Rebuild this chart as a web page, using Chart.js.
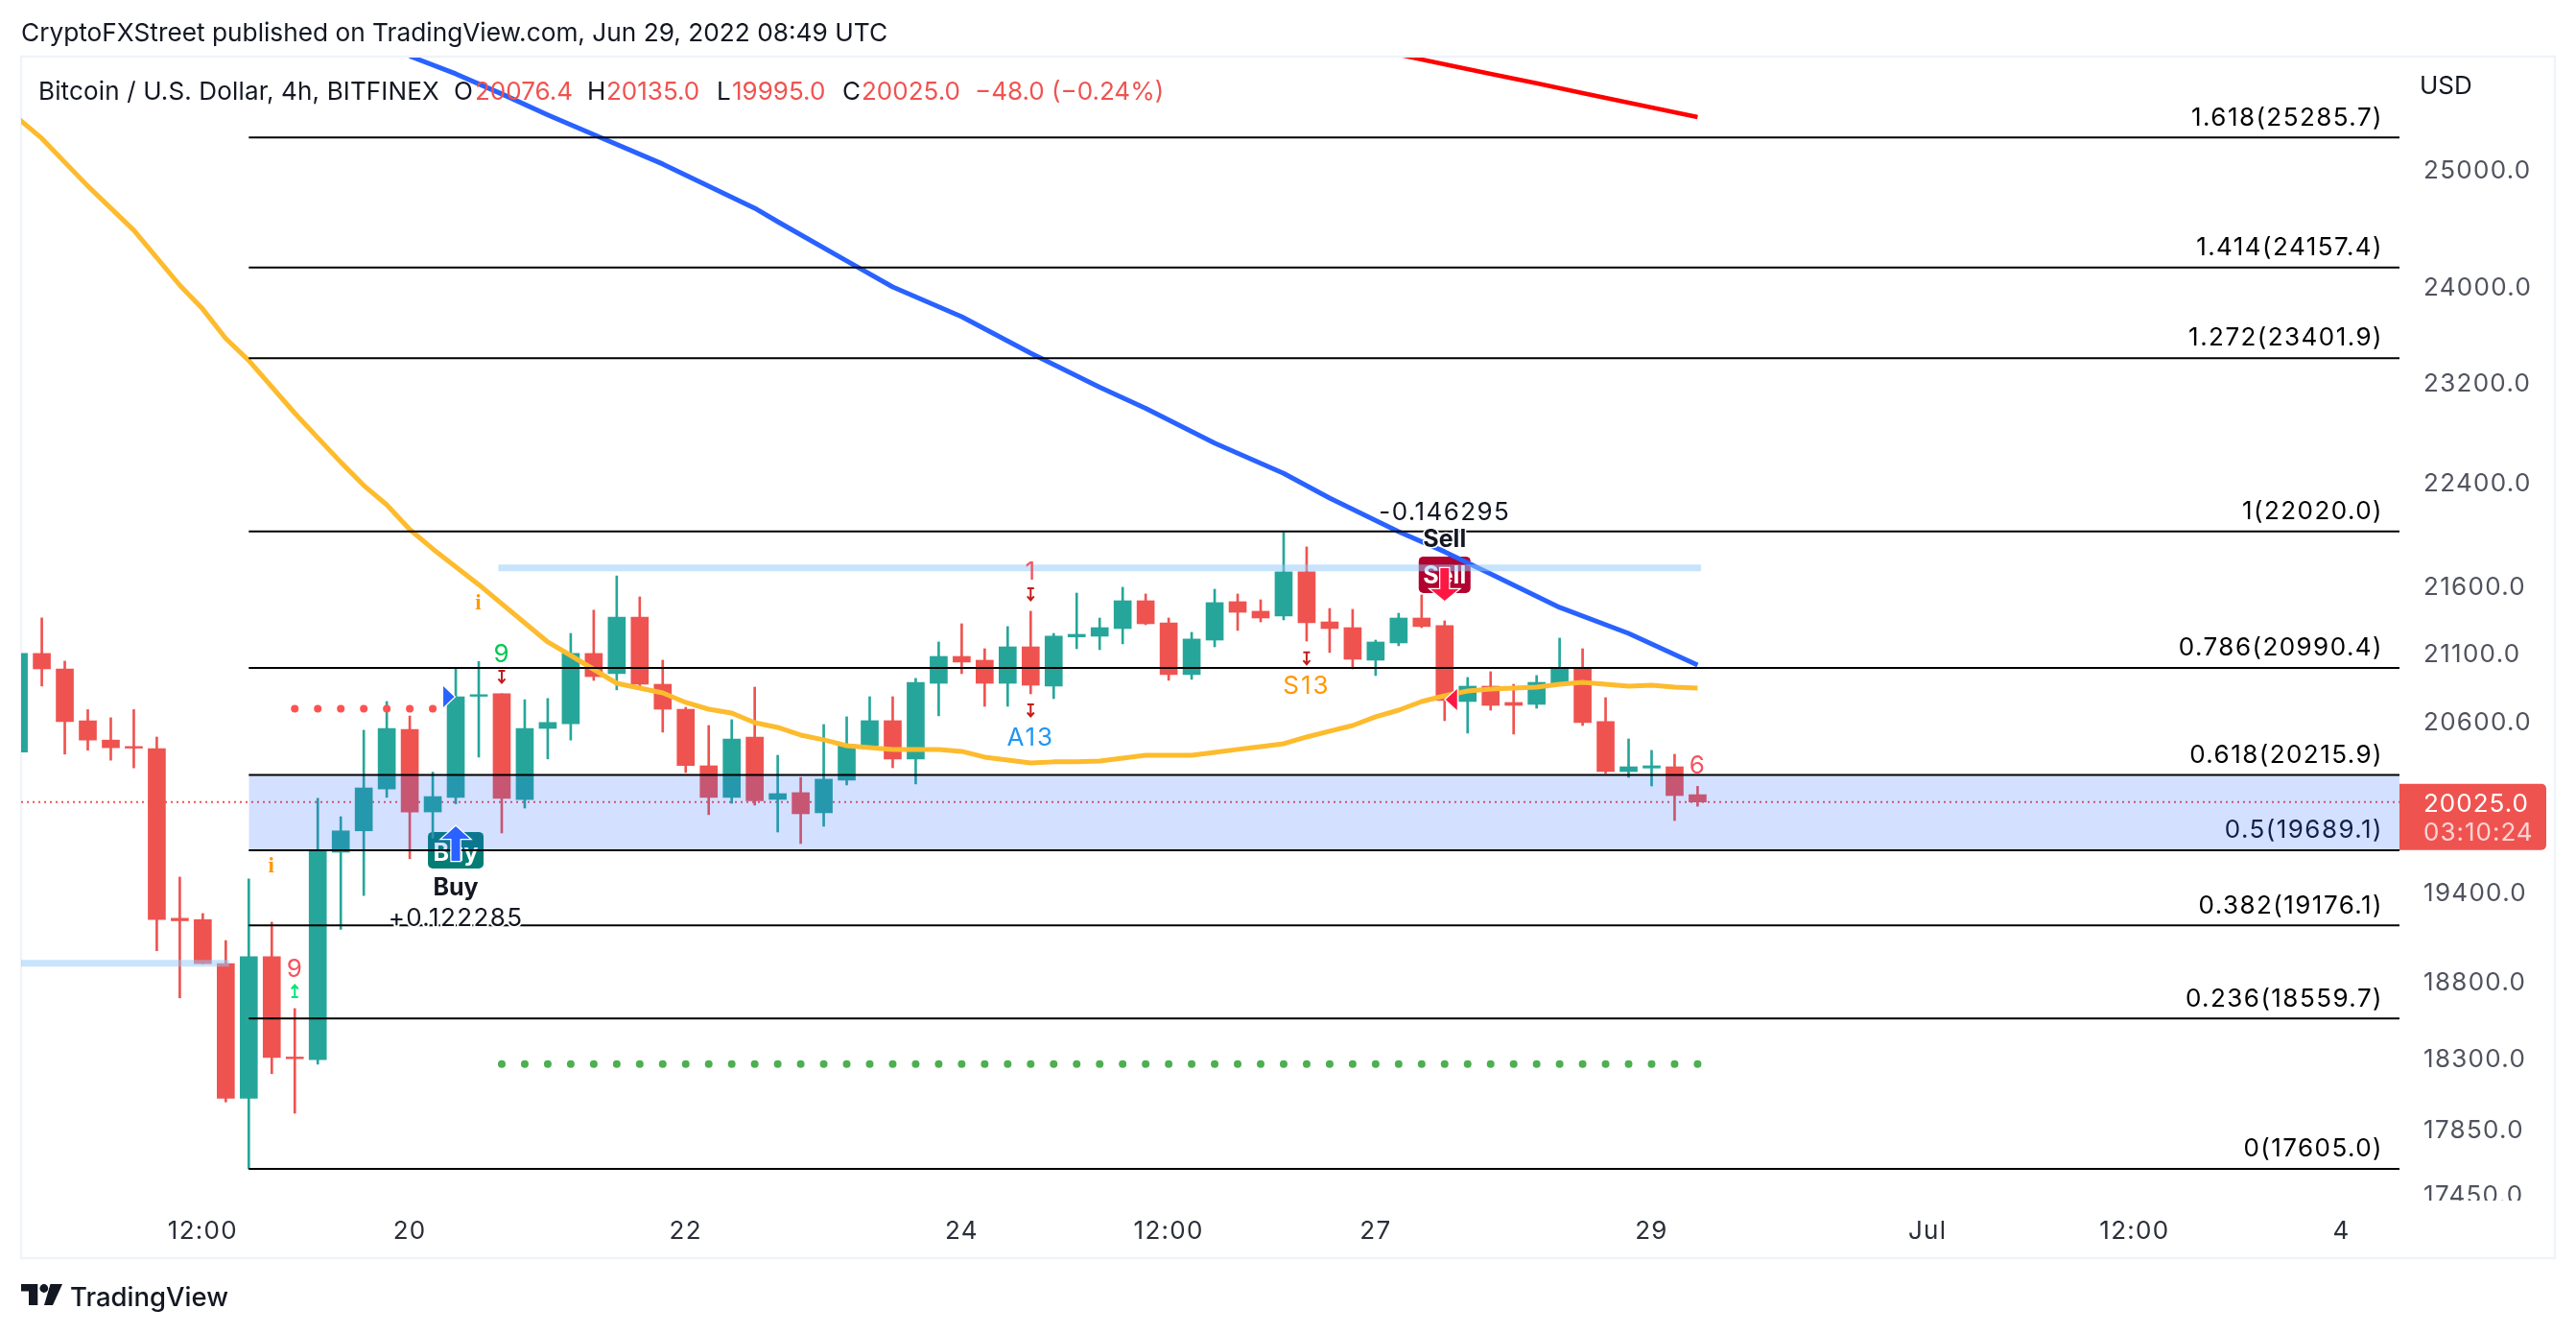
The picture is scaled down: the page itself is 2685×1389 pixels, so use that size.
<!doctype html>
<html><head><meta charset="utf-8"><style>html,body{margin:0;padding:0;background:#fff}canvas{display:block}</style>
<script src="https://cdn.jsdelivr.net/npm/chart.js@4/dist/chart.umd.js"></script></head>
<body><canvas id="c" width="2685" height="1389"></canvas>
<script>
const opens=[20379,21097,20983,20604,20465,20419,20404,19224,19215,18920,18047,18966,18310,18293,19675,19823,20117,20542,19955,20057,20782,20801,20042,
20549,20583,21097,20948,21368,20870,20688,20281,20057,20487,20043,20091,19949,20179,20425,20605,20329,20877,21075,21047,20877,21146,20856,
21220,21225,21282,21491,21325,20941,21196,21484,21412,21376,21710,21332,21289,21047,21175,21361,21304,20744,20856,20737,20723,20870,20990,
20598,20240,20265,20274,20076.4];
const highs=[21097,21362,21040,20685,20626,20685,20487,19504,19256,19074,19492,19198,18624,20051,19922,20536,20744,20639,20236,20983,21037,20801,20757,
20766,21246,21420,21679,21520,21047,20702,20570,20612,20849,20356,20199,20577,20633,20779,20779,20913,21182,21318,21132,21297,21412,21246,
21549,21361,21593,21542,21361,21254,21578,21542,21498,22014,21901,21433,21426,21196,21397,21535,21340,20920,20962,20870,20934,21211,21132,
20772,20473,20391,20363,20135];
const lows=[20379,20857,20364,20392,20321,20266,19006,18694,18920,18023,17605,18203,17952,18263,19149,19378,20057,19630,19772,20012,20343,19808,19982,
20330,20465,20898,20829,20856,20522,20233,19936,20016,20003,19815,19735,19855,20145,20425,20267,20152,20640,20948,20709,20709,20800,20765,
21132,21125,21168,21311,20899,20906,21146,21268,21332,21347,21189,21104,20983,20934,21154,21289,20605,20515,20681,20508,20695,20870,20570,
20227,20199,20138,19895,19995];
const closes=[21097,20983,20598,20465,20410,20407,19215,19207,18920,18047,18966,18307,18299,19689,19823,20124,20549,19955,20063,20779,20794,20051,20549,
20592,21097,20926,21368,20870,20688,20283,20057,20473,20034,20084,19942,20186,20432,20605,20329,20884,21075,21033,20877,21146,20863,21225,
21239,21289,21491,21318,20941,21204,21477,21404,21361,21710,21325,21282,21054,21182,21361,21297,20751,20856,20716,20716,20884,20990,20591,
20240,20274,20281,20070,20025];
const maSlowBars=[0,1,3,4,5,7,8,9,10,12,13,14,15,16,17,18,20,23,24,26,28,29,30,31,32,33,34,35,36,37,38,39,40,41,42,43,44,45,46,47,48,49,50,51,52,53,54,55,56,57,58,59,60,61,62,63,64,65,66,67,68,69,70,71,72,73];
const maSlowValues=[25452,25279,24859,24667,24477,24008,23808,23563,23382,22954,22757,22562,22379,22227,22035,21886,21613,21182,21082,20877,20807,20737,20688,
20660,20591,20556,20501,20467,20425,20411,20398,20398,20398,20384,20343,20322,20302,20309,20309,20315,20336,20356,20356,20356,20377,20398,
20418,20439,20487,20529,20570,20633,20681,20744,20786,20821,20835,20842,20849,20870,20884,20870,20856,20863,20849,20842];
const ma100Bars=[17,19,21,23,25,28,30,32,33,36,38,41,44,47,49,52,55,57,60,62,64,67,70,73];
const ma100Values=[26019,25858,25676,25488,25312,25052,24858,24667,24550,24214,23994,23745,23443,23164,22993,22714,22474,22280,22019,21864,21695,21441,21246,21011];
const ma200Bars=[60,62,64,66,68,70,73];
const ma200Values=[26033,25945,25858,25772,25684,25597,25469];
const fibRatios=['1.618','1.414','1.272','1','0.786','0.618','0.5','0.382','0.236','0'];
const fibPrices=[25285.7,24157.4,23401.9,22020.0,20990.4,20215.9,19689.1,19176.1,18559.7,17605.0];
const fibStartBar=10;
const bandUpperBars=[21,73], bandUpperPrice=21741;
const bandLowerBars=[0,9], bandLowerPrice=18923;
const redDotBars=[12,13,14,15,16,17,18], redDotPrice=20691;
const greenDotBars=[21,22,23,24,25,26,27,28,29,30,31,32,33,34,35,36,37,38,39,40,41,42,43,44,45,46,47,48,49,50,51,52,53,54,55,56,57,58,59,60,61,62,63,64,65,66,67,68,69,70,71,72,73], greenDotPrice=18265;
const lastPrice=20025.0, countdown='03:10:24';
const priceTicks=[25000,24000,23200,22400,21600,21100,20600,19400,18800,18300,17850,17450];
const timeTickBars=[8,17,29,41,50,59,71,83,92,101];
const timeTickLabels=['12:00','20','22','24','12:00','27','29','Jul','12:00','4'];
const signalTexts=['9','9','i','i','1','A13','S13','6'];
const signalBars=[12,21,20,11,44,44,56,73];
const signalPrices=[18889,21100,21477,19586,21717,20487,20863,20290];
const downMarkBars=[21,44,44,56], downMarkPrices=[20927,21542,20681,21063];
const upMarkBars=[12], upMarkPrices=[18737];

const FONT='Inter, "Liberation Sans", sans-serif';
const XMIN=0.1,XMAX=103.52,YMIN=17410,YMAX=26006;
const pts=(bars,vals)=>bars.map((b,i)=>({x:b,y:vals[i]}));
const flat=(bars,v)=>bars.map(b=>({x:b,y:v}));
const UP='#26a69a',DOWN='#ef5350';
const candleColors=closes.map((c,i)=>c>=opens[i]?UP:DOWN);
const lineDs=(data,color,width,order,extra)=>Object.assign({type:'line',data,borderColor:color,borderWidth:width,pointRadius:0,tension:0,fill:false,order,clip:0,borderCapStyle:'butt',borderJoinStyle:'round'},extra||{});
const datasets=[
 {type:'bar',label:'wick',data:highs.map((h,i)=>({x:i,y:[lows[i],h]})),backgroundColor:candleColors,barThickness:2,grouped:false,order:70,borderWidth:0},
 {type:'bar',label:'body',data:opens.map((o,i)=>({x:i,y:[Math.min(o,closes[i]),Math.max(o,closes[i])]})),backgroundColor:candleColors,barThickness:18,grouped:false,order:60,borderWidth:0},
 lineDs(flat([XMIN,XMAX],lastPrice),'#ef5350',2,80,{borderDash:[2,4]}),
 lineDs(pts(maSlowBars,maSlowValues),'#fdbb2d',5,50),
 lineDs(pts(ma100Bars,ma100Values),'#2962ff',5,49),
 lineDs(pts(ma200Bars,ma200Values),'#ff0000',4.5,48),
 lineDs(flat(bandUpperBars,bandUpperPrice),'rgba(144,202,249,0.5)',7,45,{borderCapStyle:'square'}),
 lineDs(flat(bandLowerBars,bandLowerPrice),'rgba(144,202,249,0.5)',7,45,{borderCapStyle:'square'}),
 lineDs(flat(redDotBars,redDotPrice),'#ff5252',0,44,{showLine:false,pointRadius:4,pointBackgroundColor:'#ff5252',pointBorderWidth:0}),
 lineDs(flat(greenDotBars,greenDotPrice),'#4caf50',0,44,{showLine:false,pointRadius:4,pointBackgroundColor:'#4caf50',pointBorderWidth:0}),
 lineDs(flat([fibStartBar,XMAX],fibPrices[5]),'rgba(0,0,0,0)',0,30,{fill:{value:fibPrices[6]},backgroundColor:'rgba(41,98,255,0.2)'}),
 ...fibPrices.map(p=>lineDs(flat([fibStartBar,XMAX],p),'#000000',2,20))
];
function txt(ctx,s,x,y,font,color,align,halo,sp){
 ctx.font=font;ctx.textAlign=align||'center';ctx.textBaseline='middle';ctx.letterSpacing=(sp||0)+'px';
 y+=1.5;
 if(halo){ctx.lineWidth=halo;ctx.strokeStyle='#fff';ctx.lineJoin='round';ctx.strokeText(s,x,y);}
 ctx.fillStyle=color;ctx.fillText(s,x,y);
}
function rr(ctx,x,y,w,h,r,color){ctx.beginPath();ctx.roundRect(x,y,w,h,r);ctx.fillStyle=color;ctx.fill();}
function poly(ctx,p,fill,stroke,sw){ctx.beginPath();p.forEach((q,i)=>i?ctx.lineTo(q[0],q[1]):ctx.moveTo(q[0],q[1]));ctx.closePath();
 if(stroke){ctx.lineWidth=sw;ctx.strokeStyle=stroke;ctx.lineJoin='miter';ctx.stroke();}ctx.fillStyle=fill;ctx.fill();}
function mark(ctx,x,y,dir,color){
 ctx.strokeStyle=color;ctx.lineWidth=2;ctx.beginPath();
 ctx.moveTo(x-3.5,y-6*dir);ctx.lineTo(x+3.5,y-6*dir);ctx.moveTo(x,y-6*dir);ctx.lineTo(x,y+6*dir);
 ctx.moveTo(x-3.5,y+2.5*dir);ctx.lineTo(x,y+6.5*dir);ctx.lineTo(x+3.5,y+2.5*dir);ctx.stroke();
}
const overlay={id:'overlay',
 beforeDraw(ch){const c=ch.ctx;c.save();c.strokeStyle='#f0f3fa';c.lineWidth=2.5;c.strokeRect(22,59,2641,1252);c.restore();c.letterSpacing='1.3px';},
 beforeDatasetsDraw(ch){const c=ch.ctx,x=ch.scales.x,y=ch.scales.y;c.save();
  const bx=x.getPixelForValue(19),by=y.getPixelForValue(19689);
  rr(c,bx-29,by-19,58,38,5,'#047d74');txt(c,'Buy',bx,by+2,'700 25px '+FONT,'#ffffff');
  const sx=x.getPixelForValue(62),sy=y.getPixelForValue(21688);
  rr(c,sx-27,sy-19,54,38,5,'#b2022f');txt(c,'Sell',sx,sy,'700 25px '+FONT,'#ffffff');
  c.restore();},
 afterDatasetsDraw(ch){const c=ch.ctx,x=ch.scales.x,y=ch.scales.y;c.save();
  const X=v=>x.getPixelForValue(v),Y=v=>y.getPixelForValue(v);
  signalTexts.forEach((s,i)=>{
   const px=X(signalBars[i]),py=Y(signalPrices[i]);
   const col={'A13':'#2196f3','S13':'#ff9800','i':'#ff9800'}[s]||(i===1?'#00c853':'#f7525f');
   txt(c,s,px,py,s==='i'?'700 23px "Liberation Serif", serif':'400 26px '+FONT,col,'center',0,s.length>1?2:1);
  });
  downMarkBars.forEach((b,i)=>mark(c,X(b),Y(downMarkPrices[i]),1,'#c21c1c'));
  upMarkBars.forEach((b,i)=>mark(c,X(b),Y(upMarkPrices[i]),-1,'#00e676'));
  const bx=X(19),tip=Y(19855);
  poly(c,[[bx,tip],[bx+14.5,tip+13],[bx+4.5,tip+13],[bx+4.5,tip+36],[bx-4.5,tip+36],[bx-4.5,tip+13],[bx-14.5,tip+13]],'#2962ff','#ffffff',2.5);
  const ty=Y(20779);
  poly(c,[[bx-13,ty-11],[bx-1.5,ty],[bx-13,ty+11]],'#2962ff','#ffffff',2.5);
  txt(c,'Buy',bx,Y(19438),'700 25px '+FONT,'#131722');
  txt(c,'+0.122285',bx,Y(19243)+1.5,'400 26px '+FONT,'#131722','center',4,1.4);
  const sx=X(62),stip=Y(21491);
  poly(c,[[sx,stip],[sx+14.5,stip-12],[sx+4.5,stip-12],[sx+4.5,stip-34],[sx-4.5,stip-34],[sx-4.5,stip-12],[sx-14.5,stip-12]],'#ff1744','#ffffff',2.5);
  const t2=Y(20758);
  poly(c,[[sx+1,t2],[sx+13,t2-11],[sx+13,t2+11]],'#ff1744','#ffffff',2.5);
  txt(c,'Sell',sx,Y(21969),'700 25px '+FONT,'#131722','center',3);
  txt(c,'-0.146295',sx,Y(22198)+2.5,'400 26px '+FONT,'#131722','center',3,1.4);
  fibRatios.forEach((r,i)=>{
   txt(c,r+'('+fibPrices[i].toFixed(1)+')',2484,Y(fibPrices[i])-22,'400 26px '+FONT,i===6?'#10204a':'#000000','right',0,1.45);
  });
  c.restore();},
 afterDraw(ch){const c=ch.ctx;c.save();
  c.fillStyle='#ffffff';c.fillRect(2503,1251,150,16);
  const py=ch.scales.y.getPixelForValue(lastPrice);
  rr(c,2501,py-19,153,69,[0,5,5,0],'#ef5350');
  txt(c,lastPrice.toFixed(1),2526,py+1.5,'400 26px '+FONT,'#ffffff','left',0,1);
  txt(c,countdown,2526,py+31,'400 26px '+FONT,'rgba(255,255,255,0.75)','left',0,1);
  txt(c,'USD',2522,89,'400 26px '+FONT,'#131722','left');
  txt(c,'CryptoFXStreet published on TradingView.com, Jun 29, 2022 08:49 UTC',22,34,'400 26.25px '+FONT,'#131722','left');
  const dark='#131722',red='#ef5350',f='400 26px '+FONT;
  [['Bitcoin / U.S. Dollar, 4h, BITFINEX',40,dark,0.15],['O',473,dark],['20076.4',495,red],['H',612,dark],['20135.0',632,red],['L',747,dark],['19995.0',763,red],['C',878,dark],['20025.0',898,red],['−48.0',1016,red],['(−0.24%)',1096,red]]
   .forEach(a=>txt(c,a[0],a[1],94.5,f,a[2],'left',0,a[3]||0));
  poly(c,[[22,1338],[39.3,1338],[39.3,1360],[30,1360],[30,1345.5],[22,1345.5]],'#131722');
  c.fillStyle='#131722';c.beginPath();c.arc(45.8,1342.5,4.4,0,Math.PI*2);c.fill();
  poly(c,[[52.5,1338],[65,1338],[55,1360],[46,1360]],'#131722');
  txt(c,'TradingView',73,1351.5,'500 27.5px '+FONT,'#131722','left');
  c.restore();}
};
new Chart(document.getElementById('c'),{
 type:'bar',data:{datasets},plugins:[overlay],
 options:{responsive:false,animation:false,devicePixelRatio:1,events:[],
  layout:{padding:{left:22,top:60,right:0,bottom:0}},
  plugins:{legend:{display:false},tooltip:{enabled:false},title:{display:false}},
  scales:{
   x:{type:'linear',offset:false,min:XMIN,max:XMAX,grid:{display:false},border:{display:false},
    afterBuildTicks:s=>{s.ticks=timeTickBars.map(v=>({value:v}));},
    afterFit:s=>{s.height=138;},
    ticks:{autoSkip:false,maxRotation:0,padding:9,color:'#2a2e39',font:{family:FONT,size:26},callback:v=>timeTickLabels[timeTickBars.indexOf(v)]}},
   y:{type:'logarithmic',position:'right',min:YMIN,max:YMAX,bounds:'data',grid:{display:false},border:{display:false},
    afterBuildTicks:s=>{s.ticks=priceTicks.map(v=>({value:v}));},
    afterFit:s=>{s.width=184;},
    ticks:{autoSkip:false,padding:17,labelOffset:1.5,color:'#50535e',font:{family:FONT,size:26},callback:v=>Number(v).toFixed(1)}}
  }}
});
</script></body></html>
